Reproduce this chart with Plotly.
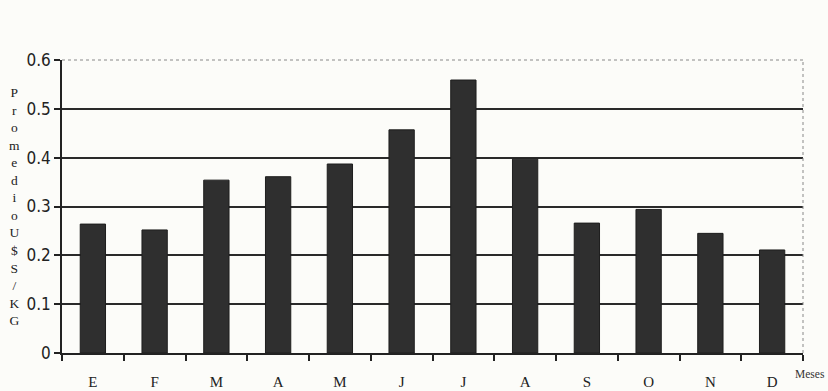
import plotly.graph_objects as go

months = ["E", "F", "M", "A", "M", "J", "J", "A", "S", "O", "N", "D"]
precio = [0.264, 0.252, 0.354, 0.361, 0.387, 0.457, 0.559, 0.397, 0.266, 0.294, 0.245, 0.211]
y_ticks = [0, 0.1, 0.2, 0.3, 0.4, 0.5, 0.6]
y_tick_text = ["0", "0.1", "0.2", "0.3", "0.4", "0.5", "0.6"]
y_title = "PromedioU$S/KG"
x_title = "Meses"

pos = list(range(len(months)))

fig = go.Figure()
fig.add_trace(go.Bar(
    x=pos, y=precio,
    marker=dict(color="#2f2f2f", line=dict(color="#1e1e1e", width=1)),
    width=0.41,
))

serif = "Liberation Serif, Times New Roman, serif"
narrow = "Liberation Sans Narrow, DejaVu Sans Condensed, Arial Narrow, sans-serif"

fig.update_layout(
    width=828, height=391,
    margin=dict(l=62, r=25, t=60, b=38),
    paper_bgcolor="#fcfcf9",
    plot_bgcolor="#fcfcf9",
    showlegend=False,
    xaxis=dict(
        range=[-0.5, len(months) - 0.5],
        automargin=False,
        tickmode="array", tickvals=pos, ticktext=months,
        ticks="", showgrid=False, zeroline=False,
        showline=True, linecolor="#222", linewidth=1.5,
        tickfont=dict(family=serif, size=15, color="#222"),
        ticklabelstandoff=14,
        minor=dict(tickmode="linear", tick0=-0.5, dtick=1, ticks="outside",
                   ticklen=6, tickwidth=1.5, tickcolor="#222", showgrid=False),
    ),
    yaxis=dict(
        range=[0, 0.6],
        automargin=False,
        tickmode="array", tickvals=y_ticks, ticktext=y_tick_text,
        ticks="outside", ticklen=6, tickwidth=1.5, tickcolor="#222",
        showline=True, linecolor="#222", linewidth=1.5,
        showgrid=True, gridcolor="#2a2a2a", gridwidth=1.6,
        zeroline=False,
        tickfont=dict(family=narrow, size=17, color="#222"),
    ),
    shapes=[
        dict(type="line", xref="paper", yref="paper", x0=0, x1=1, y0=1, y1=1,
             line=dict(color="#888", width=1, dash="dot")),
        dict(type="line", xref="paper", yref="paper", x0=1, x1=1, y0=0, y1=1,
             line=dict(color="#888", width=1, dash="dot")),
    ],
    annotations=[
        dict(text="<br>".join(list(y_title)), xref="paper", yref="paper",
             x=-0.0635, y=0.5, xanchor="center", yanchor="middle",
             showarrow=False, align="center",
             font=dict(family=serif, size=13.5, color="#222")),
        dict(text=x_title, xref="paper", yref="paper",
             x=1.0325, y=-0.072, xanchor="right", yanchor="middle",
             showarrow=False, font=dict(family=serif, size=11.5, color="#333")),
    ],
)

fig.write_html("out.html")
